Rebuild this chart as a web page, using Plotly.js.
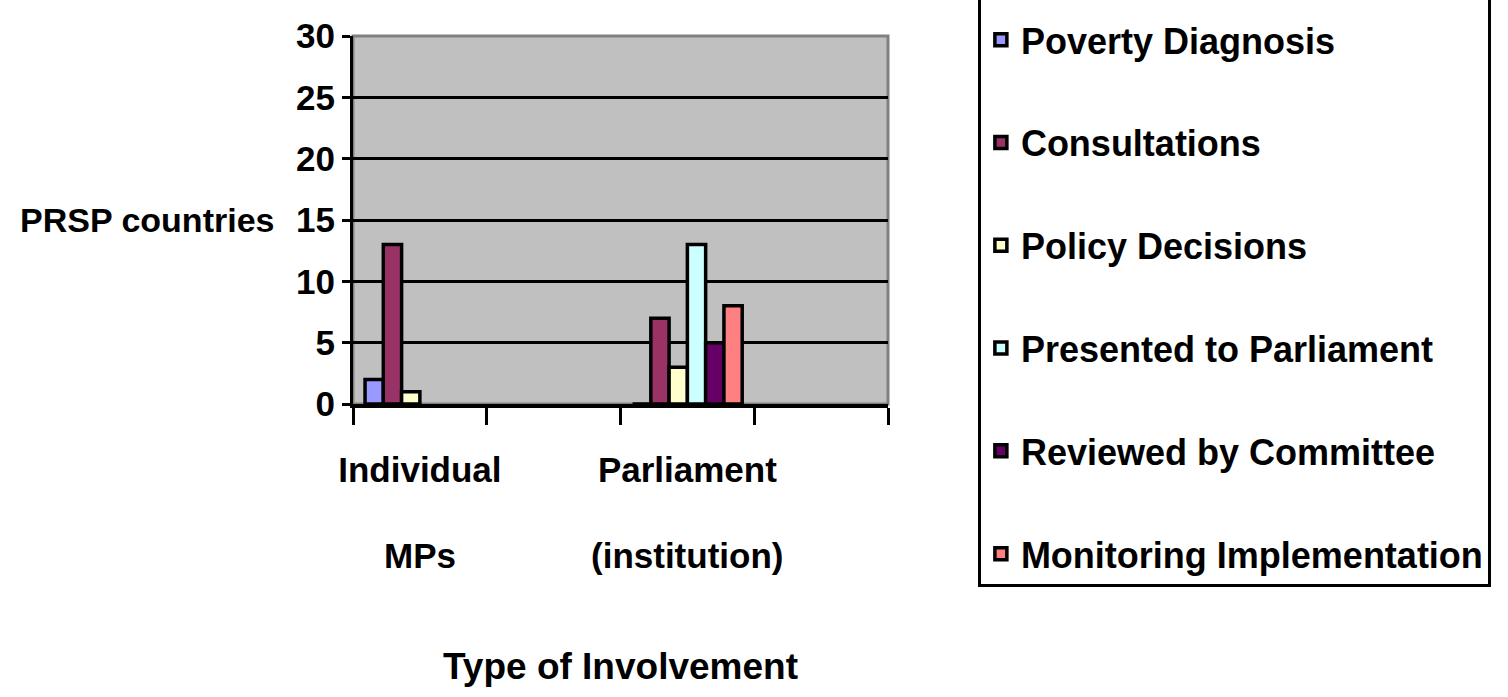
<!DOCTYPE html>
<html>
<head>
<meta charset="utf-8">
<script src="https://cdn.plot.ly/plotly-3.0.1.min.js"></script>
<style>html,body{margin:0;padding:0;background:#fff;}#chart{width:1508px;height:697px;}</style>
</head>
<body>
<div id="chart"></div>
<script>
// ---- data ----
const categoryPositions = [0, 2];
const categoryLine1 = ["Individual", "Parliament"];
const categoryLine2 = ["MPs", "(institution)"];

const seriesNames = [
  "Poverty Diagnosis",
  "Consultations",
  "Policy Decisions",
  "Presented to Parliament",
  "Reviewed by Committee",
  "Monitoring Implementation"
];
const povertyDiagnosis = [2, 0];
const consultations = [13, 7];
const policyDecisions = [1, 3];
const presentedToParliament = [null, 13];
const reviewedByCommittee = [null, 5];
const monitoringImplementation = [null, 8];
const seriesColors = ["#9999FF", "#993366", "#FFFFCC", "#CCFFFF", "#660066", "#FF8080"];

const yTickVals = [0, 5, 10, 15, 20, 25, 30];

// ---- chart ----
const FONT_A = "'Liberation Sans', Arial, sans-serif";
const seriesValues = [povertyDiagnosis, consultations, policyDecisions,
  presentedToParliament, reviewedByCommittee, monitoringImplementation];

const traces = seriesNames.map((name, i) => ({
  type: "bar",
  name: name,
  x: categoryPositions,
  y: seriesValues[i],
  legendgroup: "g" + i,
  marker: { color: seriesColors[i], line: { color: "#000", width: 3.5 } },
  hoverinfo: "name+y"
}));

const fA = (s) => ({ family: FONT_A, size: s, color: "#000", weight: "bold" });

const layout = {
  width: 1508,
  height: 697,
  margin: { l: 353, r: 620, t: 36, b: 293, autoexpand: false },
  paper_bgcolor: "#ffffff",
  plot_bgcolor: "#c0c0c0",
  barmode: "group",
  bargap: 0.59,
  bargroupgap: 0,
  font: fA(35),
  showlegend: true,
  legend: {
    x: 1.168, xanchor: "left",
    y: 1.136, yanchor: "top",
    maxheight: 720,
    bgcolor: "#ffffff",
    bordercolor: "#000", borderwidth: 3,
    font: fA(36),
    title: { text: " ", font: fA(16) },
    tracegroupgap: 53,
    traceorder: "grouped"
  },
  xaxis: {
    range: [-0.5, 3.5],
    tickmode: "array",
    tickvals: categoryPositions,
    ticktext: categoryLine1,
    ticks: "",
    ticklabelstandoff: 32,
    tickfont: fA(35),
    minor: { tick0: -0.5, dtick: 1, ticks: "outside", ticklen: 17, tickwidth: 3, tickcolor: "#000", showgrid: false },
    showline: true, linecolor: "#000", linewidth: 4,
    showgrid: false, zeroline: false,
    fixedrange: true,
    title: { text: "Type of Involvement", standoff: 166, font: fA(37) }
  },
  yaxis: {
    range: [0, 30],
    tickmode: "array", tickvals: yTickVals,
    ticks: "outside", ticklen: 8, tickwidth: 3, tickcolor: "#000",
    ticklabelstandoff: 0,
    showline: true, linecolor: "#000", linewidth: 3,
    showgrid: true, gridcolor: "#000", gridwidth: 3,
    zeroline: false,
    tickfont: fA(35),
    fixedrange: true
  },
  shapes: [{
    type: "rect", xref: "paper", yref: "paper",
    x0: 0, x1: 1, y0: 0, y1: 1,
    line: { color: "#808080", width: 3 },
    fillcolor: "rgba(0,0,0,0)",
    layer: "below"
  }],
  annotations: [{
    text: "PRSP countries",
    xref: "paper", yref: "paper",
    x: 0, xanchor: "right", xshift: -77,
    y: 0.5, yanchor: "middle",
    showarrow: false,
    font: fA(34)
  }].concat(categoryPositions.map((p, i) => ({
    text: categoryLine2[i],
    xref: "x", yref: "paper",
    x: p, y: 0, yanchor: "middle", yshift: -151,
    showarrow: false,
    font: fA(35)
  })))
};

Plotly.newPlot("chart", traces, layout, { displayModeBar: false, staticPlot: true });
</script>
</body>
</html>
